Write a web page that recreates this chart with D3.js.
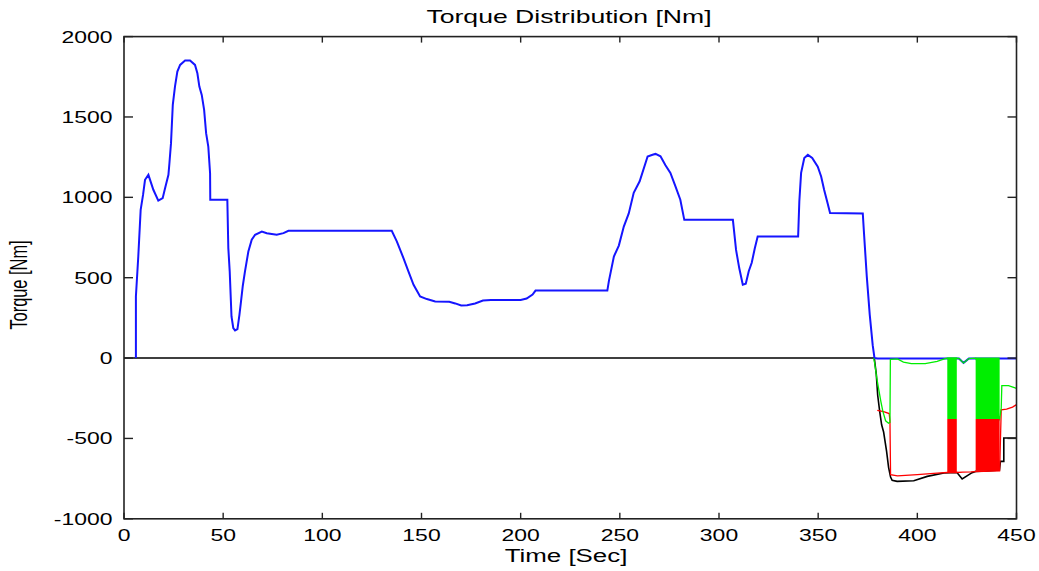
<!DOCTYPE html>
<html><head><meta charset="utf-8">
<script src="https://cdn.jsdelivr.net/npm/d3@7"></script>
<style>body{margin:0;background:#fff}svg{display:block}text{font-family:"Liberation Sans",Arial,sans-serif;fill:#000}</style>
</head><body><svg id="c" width="1039" height="571"></svg>
<script>
// ---- data (time [s], torque [Nm]) ----
const blueT = [6,6,7.2,8.4,9.6,10.6,12.3,14.8,17.3,19.5,20.7,22.4,22.9,23.7,24.6,25.7,26.9,28.3,30.8,33.3,35.8,37,38,39.2,40.4,41.4,42.5,43.4,43.5,52.1,52.6,53.3,54.2,55.1,56,57.2,58.2,59,59.9,61,62.7,64.4,66.1,69.5,72,77,80.4,82.9,135,137.6,140.9,143.4,146,149.3,152.7,156.9,164,167,170,173,177,181,185,200,203,206,207.5,243.7,244.5,247,249.5,252,254.5,257,260,264,266.5,268,270.5,273,275.5,278,280.5,282.5,307,308.6,310.2,312,313.5,315,316.5,318,319.5,339.9,340.5,341.4,343,344.8,347,349.8,351.5,353,354.5,356,372.5,373,374.5,376,377.5,378.4,380,421,423.3,426,450];
const blueV = [0,383,632,922,1015,1109,1140,1047,980,995,1057,1140,1212,1337,1575,1689,1782,1824,1851,1851,1824,1772,1689,1637,1544,1399,1316,1150,985,985,684,539,259,187,172,180,269,352,450,539,663,736,767,787,777,767,777,792,792,725,622,539,456,383,367,352,350,340,327,328,340,358,362,362,370,395,420,420,480,632,700,818,900,1028,1100,1254,1265,1270,1255,1200,1152,1070,985,860,860,673,560,456,462,540,593,680,756,756,974,1152,1244,1264,1245,1191,1130,1047,975,902,900,798,510,270,80,0,-3,-3,-30,-3,-3];

const blackT = [0,378.3,379.3,380,381,382,383,384.5,385.5,386.5,387.3,389.8,398.2,405,413.4,420,422.6,427.6,429.4,435,441.4,441.9,443.6,443.6,450];
const blackV = [0,0,-100,-230,-330,-415,-460,-580,-680,-740,-761,-767,-763,-736,-715,-712,-752,-713,-705,-703,-697,-643,-643,-497,-497];

const redT = [379.8,383,385.8,386.2,386.5,390,400,410,415.1,419.9,423,427,429.4,441.5,442.3,445,448,450];
const redV = [-326,-333,-345,-390,-726,-733,-725,-716,-712,-712,-710,-708,-706,-702,-322,-318,-305,-290];

const greenT = [378,378.6,379.5,380.6,381.6,382.6,384,385.5,386.2,386.4,390,393,397,404,410,414,415.1,419.9,421,423.3,426,429.4,441.5,442.3,442.6,446,450];
const greenV = [0,-40,-120,-200,-270,-330,-390,-405,-400,-8,-5,-25,-35,-35,-20,-3,0,0,-3,-30,-3,0,-379,-311,-172,-172,-188];

// rapid regen/friction switching intervals (drawn as solid bands)
const chatterStart = [415.1, 429.4];
const chatterEnd = [419.9, 441.5];
const regenLimit = [-379, -379];
const brakeBottom = [-712, -702];

const xTicks = [0,50,100,150,200,250,300,350,400,450];
const yTicks = [-1000,-500,0,500,1000,1500,2000];
const titleText = "Torque Distribution [Nm]";
const xLabel = "Time [Sec]";
const yLabel = "Torque [Nm]";

// ---- layout ----
const L = 124, R = 1016.5, T = 36.6, B = 518.8;
const x = d3.scaleLinear().domain([0,450]).range([L,R]);
const y = d3.scaleLinear().domain([-1000,2000]).range([B,T]);
const svg = d3.select("#c");

const zip = (ts, vs) => ts.map((t,i)=>[t,vs[i]]);
const line = d3.line().x(d=>x(d[0])).y(d=>y(d[1]));

const g = svg.append("g");
g.append("path").attr("d", line(zip(blackT,blackV))).attr("fill","none").attr("stroke","#000").attr("stroke-width",1.6);
g.append("path").attr("d", line(zip(blueT,blueV))).attr("fill","none").attr("stroke","#1515ff").attr("stroke-width",2);
g.append("path").attr("d", line(zip(redT,redV))).attr("fill","none").attr("stroke","#ff0000").attr("stroke-width",1.3);
g.append("path").attr("d", line(zip(greenT,greenV))).attr("fill","none").attr("stroke","#00ee00").attr("stroke-width",1.3);

chatterStart.forEach((s,i)=>{
  g.append("rect").attr("x",x(s)).attr("width",x(chatterEnd[i])-x(s))
   .attr("y",y(regenLimit[i])).attr("height",y(brakeBottom[i])-y(regenLimit[i])).attr("fill","#ff0000");
  g.append("rect").attr("x",x(s)).attr("width",x(chatterEnd[i])-x(s))
   .attr("y",y(0)-0.5).attr("height",y(regenLimit[i])-y(0)+0.5).attr("fill","#00ee00");
});

// ---- axes box & ticks ----
const axC = "#222";
svg.append("rect").attr("x",L).attr("y",T).attr("width",R-L).attr("height",B-T)
  .attr("fill","none").attr("stroke",axC).attr("stroke-width",1.6);
const tk = svg.append("g").attr("stroke",axC).attr("stroke-width",1.4);
xTicks.forEach(v=>{
  tk.append("line").attr("x1",x(v)).attr("x2",x(v)).attr("y1",B).attr("y2",B-6);
  tk.append("line").attr("x1",x(v)).attr("x2",x(v)).attr("y1",T).attr("y2",T+6);
});
yTicks.forEach(v=>{
  tk.append("line").attr("x1",L).attr("x2",L+9).attr("y1",y(v)).attr("y2",y(v));
  tk.append("line").attr("x1",R).attr("x2",R-9).attr("y1",y(v)).attr("y2",y(v));
});

// ---- text ----
const sxTick = 1.35, fsTick = 17;
xTicks.forEach(v=>{
  svg.append("text").attr("transform",`translate(${x(v)},541) scale(${sxTick},1)`)
    .attr("text-anchor","middle").attr("font-size",fsTick).text(v);
});
yTicks.forEach(v=>{
  svg.append("text").attr("transform",`translate(112.5,${y(v)+6}) scale(${sxTick},1)`)
    .attr("text-anchor","end").attr("font-size",fsTick).text(v);
});
svg.append("text").attr("transform",`translate(569,23) scale(1.52,1)`)
  .attr("text-anchor","middle").attr("font-size",17.5).text(titleText);
svg.append("text").attr("transform",`translate(566,562) scale(1.48,1)`)
  .attr("text-anchor","middle").attr("font-size",17.5).text(xLabel);
svg.append("text").attr("transform",`translate(27,285) scale(1.45,1) rotate(-90)`)
  .attr("text-anchor","middle").attr("font-size",16.4).text(yLabel);
</script></body></html>
